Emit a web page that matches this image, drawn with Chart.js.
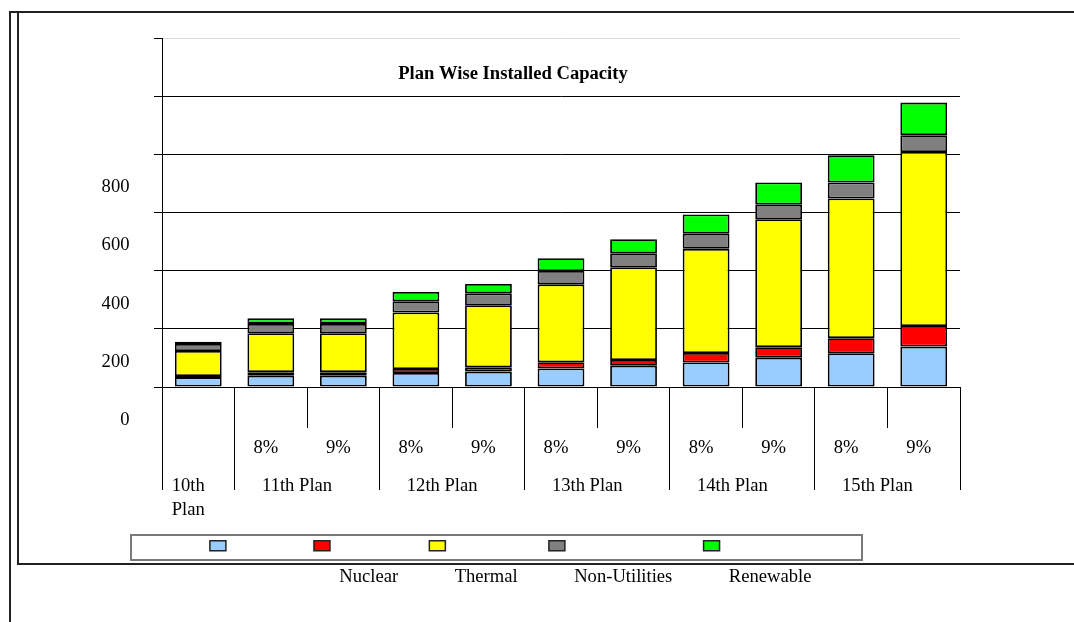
<!DOCTYPE html>
<html>
<head>
<meta charset="utf-8">
<title>Plan Wise Installed Capacity</title>
<script src="https://cdn.jsdelivr.net/npm/chart.js@4.4.1/dist/chart.umd.min.js"></script>
<style>
  html, body { margin: 0; padding: 0; background: #fff; width: 1074px; height: 622px; overflow: hidden; }
  .frame-outer { position: absolute; left: 9px; top: 11px; width: 1100px; height: 700px;
                 border-left: 2px solid #222; border-top: 2px solid #222; }
  .frame-inner { position: absolute; left: 17px; top: 13px; width: 1100px; height: 550px;
                 border-left: 2px solid #222; border-bottom: 2px solid #222; }
  .legend-box  { position: absolute; left: 130px; top: 534px; width: 733px; height: 27px;
                 box-sizing: border-box; border: 2px solid #7a7a7a; }
  canvas { position: absolute; left: 0; top: 0; }
</style>
</head>
<body>
<div class="frame-outer"></div>
<div class="frame-inner"></div>
<div class="legend-box"></div>
<canvas id="chart" width="1074" height="622"></canvas>
<script>
const FONT = "'Liberation Serif', 'Times New Roman', Times, serif";

// Growth-rate scenario under each bar, and the plan each group of bars belongs to
const subLabels = ['', '8%', '9%', '8%', '9%', '8%', '9%', '8%', '9%', '8%', '9%'];
const planLabels = [['10th', 'Plan'], '11th Plan', '12th Plan', '13th Plan', '14th Plan', '15th Plan'];
const planBarCounts = [1, 2, 2, 2, 2, 2];

// Value axis labels (0 .. 800); the two upper grid lines carry no label
const yTickLabels = ['0', '200', '400', '600', '800'];

// Installed capacity by source (GW)
const seriesNames = ['Hydro', 'Nuclear', 'Thermal', 'Non-Utilities', 'Renewable'];
const hydro        = [34, 39, 39, 48, 53, 64, 73, 84, 101, 116, 139];
const nuclear      = [4, 12, 12, 14, 15, 21, 20, 33, 36, 52, 71];
const thermal      = [86, 134, 134, 194, 213, 268, 319, 358, 440, 480, 598];
const nonUtilities = [24, 32, 32, 39, 41, 46, 48, 52, 50, 55, 58];
const renewable    = [8, 19, 19, 32, 32, 44, 48, 66, 76, 94, 112];
const seriesColors = ['#99ccff', '#ff0000', '#ffff00', '#808080', '#00ff00'];

// Category index where each plan starts (plus the closing edge), and each plan's centre
const planEdges = [0];
planBarCounts.forEach(n => planEdges.push(planEdges[planEdges.length - 1] + n));
const planCenters = planBarCounts.map((n, i) => planEdges[i] + n / 2);

const seriesValues = [hydro, nuclear, thermal, nonUtilities, renewable];
const datasets = seriesNames.map((name, i) => ({
  label: name,
  data: seriesValues[i],
  backgroundColor: seriesColors[i],
  borderColor: '#000',
  borderWidth: 1.8,
  borderSkipped: false,
  barPercentage: 0.645,
  categoryPercentage: 1,
  xAxisID: 'x',
  yAxisID: 'y'
}));

// The legend names are set one line below their swatches, so let the
// legend paint past the bottom of its own layout box.
const legendOverflow = {
  id: 'legendOverflow',
  afterLayout(chart) {
    if (chart.legend) chart.legend.bottom = chart.height;
  }
};

Chart.defaults.font.family = FONT;
Chart.defaults.color = '#000';

new Chart(document.getElementById('chart'), {
  type: 'bar',
  data: { labels: subLabels, datasets },
  plugins: [legendOverflow],
  options: {
    responsive: false,
    animation: false,
    devicePixelRatio: 1,
    layout: { padding: { left: 66, right: 114, top: 38, bottom: 57 } },
    plugins: {
      tooltip: { enabled: false },
      title: {
        display: true,
        text: 'Plan Wise Installed Capacity',
        color: '#000',
        font: { family: FONT, size: 18.6, weight: 'bold', lineHeight: 1.2 },
        // the heading sits inside the top band of the plot
        padding: { top: 24.8, bottom: -47.1 }
      },
      legend: {
        position: 'bottom',
        labels: {
          boxWidth: 16,
          boxHeight: 10,
          padding: 26.6,
          font: { family: FONT, size: 18.6, lineHeight: 1.71 },
          generateLabels: chart => chart.data.datasets.map((ds, i) => ({
            text: ['', ds.label],
            fillStyle: ds.backgroundColor,
            strokeStyle: '#222',
            lineWidth: 1.5,
            fontColor: i === 0 ? 'rgba(0,0,0,0)' : '#000',
            hidden: false,
            datasetIndex: i
          }))
        }
      }
    },
    scales: {
      x: {
        type: 'category',
        position: 'bottom',
        weight: 0,
        stacked: true,
        offset: true,
        grid: {
          display: true,
          drawOnChartArea: false,
          offset: true,
          tickLength: 103,
          tickColor: '#000',
          tickWidth: 1,
          // full-length separators between plans, short ones between scenarios
          tickBorderDash: ctx => (ctx.index === undefined || planEdges.includes(ctx.index)) ? [] : [40, 400]
        },
        border: { display: true, color: '#000', width: 1 },
        ticks: {
          autoSkip: false, maxRotation: 0, padding: -53, labelOffset: -5, color: '#000',
          font: { family: FONT, size: 18.6, lineHeight: 1.2 }
        },
        afterFit: s => { s.height = 80; }
      },
      x2: {
        type: 'linear',
        position: 'bottom',
        weight: 1,
        offset: false,
        min: 0,
        max: subLabels.length,
        grid: { display: false, drawTicks: false, offset: false },
        border: { display: false },
        afterBuildTicks: s => { s.ticks = planCenters.map(v => ({ value: v })); },
        ticks: {
          autoSkip: false, maxRotation: 0, mirror: true, padding: -31, labelOffset: -10, color: '#000',
          font: { family: FONT, size: 18.6, lineHeight: 24 / 18.6 },
          callback: (v, i) => planLabels[i]
        },
        afterFit: s => { s.height = 42.8; }
      },
      y: {
        type: 'linear',
        position: 'left',
        stacked: true,
        min: 0,
        max: 1200,
        ticks: {
          stepSize: 200, padding: 24.5, labelOffset: 33, color: '#000',
          font: { family: FONT, size: 18.6 },
          callback: (v, i) => yTickLabels[i] ?? ''
        },
        grid: {
          color: ctx => (ctx.tick && ctx.tick.value === ctx.scale.max) ? '#dcdcdc' : '#000',
          tickColor: '#000',
          tickLength: 8,
          lineWidth: 1
        },
        border: { display: true, color: '#000', width: 1 },
        afterFit: s => { s.width = 96; }
      }
    }
  }
});
</script>
</body>
</html>
